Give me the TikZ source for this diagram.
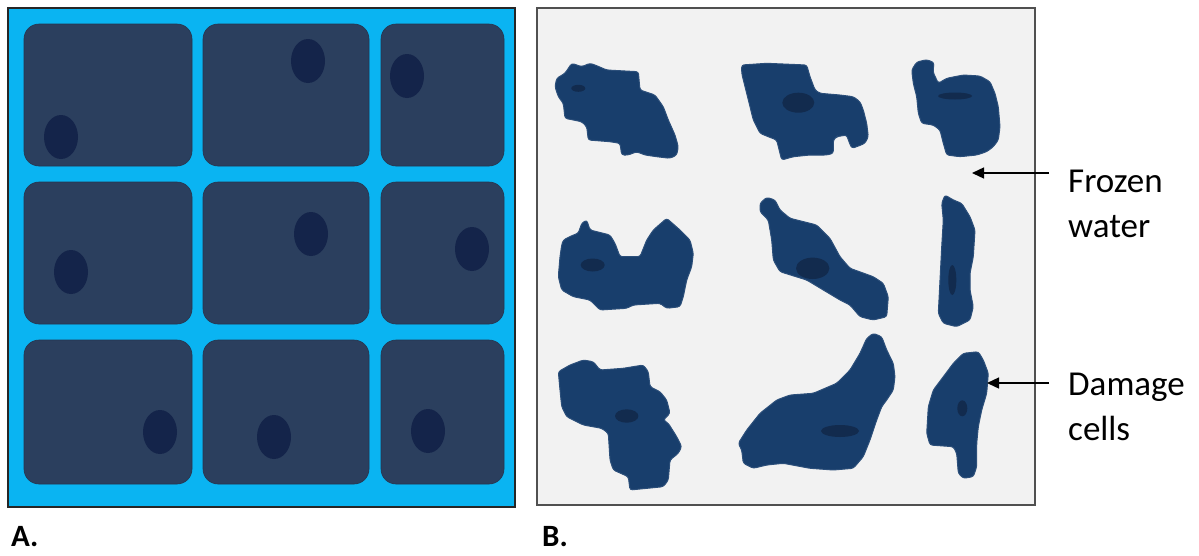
\documentclass[tikz,border=0pt]{standalone}
\usepackage{fontspec}
\setmainfont{Carlito}
\usetikzlibrary{arrows.meta}

\definecolor{iceblue}{HTML}{0AB4F2}
\definecolor{cellfill}{HTML}{2B3F5E}
\definecolor{nucfill}{HTML}{14244A}
\definecolor{frozenbg}{HTML}{F2F2F2}
\definecolor{framegrey}{HTML}{505050}
\definecolor{blobfill}{HTML}{183E6C}
\definecolor{blobedge}{HTML}{2C4F7A}
\definecolor{blobnuc}{HTML}{122B4E}

\tikzset{
  panelA/.style={fill=iceblue, draw=black!85, line width=1.2pt},
  panelB/.style={fill=frozenbg, draw=framegrey, line width=2pt},
  cellA/.style={fill=cellfill, draw=cellfill!85!black, line width=0.6pt, rounded corners=15pt},
  nucA/.style={fill=nucfill},
  blob/.style={fill=blobfill, draw=blobedge, line width=1pt, rounded corners=2.5pt},
  nucB/.style={fill=blobnuc},
  panellabel/.style={anchor=base west, inner sep=0pt, font=\fontsize{31}{36}\selectfont\bfseries},
  sidelabel/.style={anchor=base west, inner sep=0pt, font=\fontsize{35}{42}\selectfont},
  pointer/.style={-{Triangle[length=12pt,width=11pt]}, line width=1.4pt, black}
}

\begin{document}
\begin{tikzpicture}[x=1pt,y=-1pt]
\useasboundingbox (0,0) rectangle (1199,555);

% ---- A: intact cells surrounded by liquid ----
\draw[panelA] (8,8) rectangle (515,507);

\draw[cellA] (24,24)  rectangle (192,166);
\draw[cellA] (203,24) rectangle (369,166);
\draw[cellA] (381,24) rectangle (504,166);
\draw[cellA] (24,182)  rectangle (192,324);
\draw[cellA] (203,182) rectangle (369,324);
\draw[cellA] (381,182) rectangle (504,324);
\draw[cellA] (24,340)  rectangle (192,484);
\draw[cellA] (203,340) rectangle (369,484);
\draw[cellA] (381,340) rectangle (504,484);

\fill[nucA] (61,137)  ellipse [x radius=17, y radius=22];
\fill[nucA] (308,61)  ellipse [x radius=17, y radius=22];
\fill[nucA] (407,76)  ellipse [x radius=17, y radius=22];
\fill[nucA] (71,272)  ellipse [x radius=17, y radius=22];
\fill[nucA] (311,234) ellipse [x radius=17, y radius=22];
\fill[nucA] (472,249) ellipse [x radius=17, y radius=22];
\fill[nucA] (160,432) ellipse [x radius=17, y radius=22];
\fill[nucA] (274,437) ellipse [x radius=17, y radius=22];
\fill[nucA] (428,431) ellipse [x radius=17, y radius=22];

\node[panellabel] (labA) at (11,546) {A.};

% ---- B: shrunken, damaged cells in ice ----
\draw[panelB] (537,8) rectangle (1035,505);

% row 1
\draw[blob] (556.7,78.3) -- (565,73.3) -- (571.7,63.3) -- (581.7,66.7) -- (590,63.3)
  -- (595,65) -- (606.7,70) -- (638.3,71.7) -- (640,90) -- (655,95) -- (663.3,106.7)
  -- (668.3,120) -- (675,135) -- (678.3,146.7) -- (676.7,155) -- (670,158.3)
  -- (656.7,156.7) -- (645,155) -- (636.7,151.7) -- (628.3,155) -- (621.7,155)
  -- (620,143.3) -- (610,141.7) -- (588.3,140) -- (586.7,126.7) -- (581.7,121.7)
  -- (565,118.3) -- (563.3,103.3) -- (558.3,96.7) -- (555,86.7) -- cycle;
\fill[nucB] (578.3,88.3) ellipse [x radius=7, y radius=3.5];

\draw[blob] (741.7,65) -- (766.7,63.3) -- (806.7,65) -- (810,76.7) -- (815,90)
  -- (820,93.3) -- (840,95) -- (853.3,96.7) -- (860,101.7) -- (863.3,110)
  -- (866.7,123.3) -- (868.3,136.7) -- (865,143.3) -- (856.7,146.7) -- (851.7,148.3)
  -- (848.3,140) -- (846.7,135) -- (836.7,136.7) -- (833.3,140) -- (833.3,153.3)
  -- (826.7,155) -- (810,155) -- (793.3,156.7) -- (781.7,160) -- (778.3,146.7)
  -- (776.7,140) -- (768.3,136.7) -- (760,133.3) -- (753.3,120) -- (750,106.7)
  -- (745,86.7) -- (741.7,73.3) -- cycle;
\fill[nucB] (798.3,102.7) ellipse [x radius=16, y radius=10];

\draw[blob] (911.7,70) -- (916.7,62) -- (926.7,59.7) -- (934,62.5)
  -- (933,72) -- (938.3,83.3) -- (946.7,78.3) -- (963.3,75) -- (980,76)
  -- (990,81.7) -- (995,93.3) -- (998.3,106.7) -- (1000,126.7) -- (998.3,140)
  -- (993.3,146.7) -- (986.7,151.7) -- (976.7,155) -- (960,156.7) -- (946.7,155)
  -- (943.3,143.3) -- (940,130) -- (933.3,125) -- (921.7,123.3) -- (918.3,113.3)
  -- (916.7,96.7) -- (913.3,83.3) -- cycle;
\fill[nucB] (955,96) ellipse [x radius=17, y radius=3.5];

% row 2
\draw[blob] (563.3,240) -- (573.3,235) -- (578.3,233.3) -- (581.7,223.3) -- (586.7,220)
  -- (590,230) -- (610,235) -- (615,243.3) -- (620,256.7) -- (640,256.7)
  -- (646.7,240) -- (653.3,230) -- (666.7,218.3) -- (680,230) -- (690,240)
  -- (693.3,253.3) -- (691.7,266.7) -- (686.7,280) -- (683.3,296.7) -- (680,306.7)
  -- (666.7,308.3) -- (660,303.3) -- (633.3,305) -- (626.7,308.3) -- (600,310)
  -- (593.3,303.3) -- (590,300) -- (573.3,296.7) -- (561.7,290) -- (558.3,276.7)
  -- (560,256.7) -- (561.7,245) -- cycle;
\fill[nucB] (592.7,265) ellipse [x radius=12, y radius=6.5];

\draw[blob] (760,203.3) -- (766.7,197.3) -- (775,200) -- (780,210) -- (790,218.3)
  -- (816.7,225) -- (830,238.3) -- (840,256.7) -- (850,268.3) -- (873.3,276.7)
  -- (883.3,283.3) -- (888.3,296.7) -- (886.7,316.7) -- (873.3,320) -- (860,316.7)
  -- (850,305) -- (840,300) -- (823.3,290) -- (806.7,280) -- (780,271.7)
  -- (773.3,260) -- (771.7,240) -- (768.3,220) -- (760,211.7) -- cycle;
\fill[nucB] (812.7,268.3) ellipse [x radius=16.7, y radius=10.7];

\draw[blob] (945,195) -- (953.3,200) -- (961.7,203.3) -- (970,216.7) -- (975,230)
  -- (973.3,256.7) -- (970,273.3) -- (970,290) -- (973.3,306.7) -- (970,320)
  -- (956.7,326.7) -- (943.3,323.3) -- (938.3,313.3) -- (940,280) -- (941.7,246.7)
  -- (943.3,220) -- (941.7,203.3) -- cycle;
\fill[nucB] (952.3,280) ellipse [x radius=4, y radius=15];

% row 3
\draw[blob] (558.3,371.7) -- (570,365) -- (583.3,360) -- (593.3,361.7) -- (600,370)
  -- (623.3,368.3) -- (643.3,365) -- (648.3,371.7) -- (650,386.7) -- (660,391.7)
  -- (666.7,400) -- (670,413.3) -- (663.3,420) -- (668.3,423.3) -- (676.7,436.7)
  -- (681.7,446.7) -- (678.3,453.3) -- (670,460) -- (668.3,480) -- (663.3,486.7)
  -- (630,490) -- (628.3,476.7) -- (613.3,470) -- (610,460) -- (608.3,433.3)
  -- (601.7,428.3) -- (583.3,425) -- (566.7,416.7) -- (561.7,406.7) -- (560,390) -- cycle;
\fill[nucB] (626.7,416) ellipse [x radius=11.7, y radius=6.7];

\draw[blob] (866.7,338.3) -- (873.3,333.3) -- (881.7,336.7) -- (886.7,350) -- (893.3,363.3)
  -- (895,376.7) -- (893.3,390) -- (886.7,400) -- (881.7,406.7) -- (876.7,420)
  -- (870,440) -- (863.3,456.7) -- (853.3,468.3) -- (833.3,470) -- (810,468.3)
  -- (783.3,463.3) -- (766.7,465) -- (753.3,468.3) -- (743.3,463.3) -- (741.7,450)
  -- (738.3,443.3) -- (746.7,430) -- (760,413.3) -- (776.7,400) -- (790,395)
  -- (813.3,393.3) -- (836.7,383.3) -- (850,370) -- (860,353.3) -- cycle;
\fill[nucB] (840,431) ellipse [x radius=19, y radius=6];

\draw[blob] (963.3,353.3) -- (978.3,351.7) -- (983.3,360) -- (988.3,373.3) -- (986.7,393.3)
  -- (981.7,410) -- (978.3,426.7) -- (976.7,443.3) -- (976.7,466.7) -- (973.3,476.7)
  -- (963.3,478.3) -- (958.3,473.3) -- (956.7,453.3) -- (953.3,446.7) -- (930,445)
  -- (926.7,433.3) -- (928.3,406.7) -- (933.3,390) -- (943.3,376.7) -- (953.3,363.3) -- cycle;
\fill[nucB] (962.3,408.3) ellipse [x radius=5, y radius=8];

\node[panellabel] (labB) at (542,546) {B.};

% ---- side labels with pointers ----
\node[sidelabel] (frozen) at (1068,192) {Frozen};
\node[sidelabel] (water)  at (1068,237) {water};
\node[sidelabel] (damage) at (1068,395) {Damage};
\node[sidelabel] (cells)  at (1068,440) {cells};

\coordinate (iceFrom) at (1049,173);
\coordinate (iceTip)  at (972,173);
\coordinate (dmgFrom) at (1049,383);
\coordinate (dmgTip)  at (987,383);
\draw[pointer] (iceFrom) -- (iceTip);
\draw[pointer] (dmgFrom) -- (dmgTip);
\end{tikzpicture}
\end{document}
